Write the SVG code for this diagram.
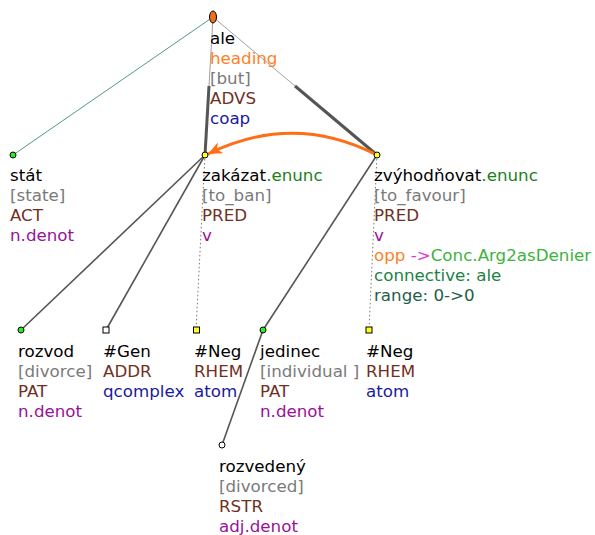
<svg xmlns="http://www.w3.org/2000/svg" width="595" height="535" viewBox="0 0 595 535">
<style>
text{font-family:"DejaVu Sans","Liberation Sans",sans-serif;font-size:16.7px;fill:#000}
.gl{fill:#7a7a7a}.fn{fill:#722f1f}.bl{fill:#1a1a9a}.pu{fill:#991199}.en{fill:#1a7f1a}
.or{fill:#ff7f27}.mg{fill:#dd33dd}.lg{fill:#3cb33c}.cn{fill:#1c8245}.rg{fill:#235e48}
.e{stroke:#555;stroke-width:1.6;fill:none}
.thin{stroke:#a0a0a0;stroke-width:1;fill:none}
.thick{stroke:#555;stroke-width:3;fill:none}
.dot{stroke:#777;stroke-width:1;stroke-dasharray:1.5,2.5;fill:none}
.nd{stroke:#000;stroke-width:1}
</style>
<defs>
<marker id="ah" markerUnits="userSpaceOnUse" markerWidth="16" markerHeight="12" refX="14" refY="6" orient="auto">
<path d="M0,0 L14,6 L0,12 L4,6 z" fill="#ff6e14"/>
</marker>
</defs>
<g id="connectors">
<line x1="213" y1="17" x2="13" y2="155" stroke="#4f9a86" stroke-width="1"/>
<line class="thin" x1="213" y1="17" x2="209" y2="86"/>
<line class="thick" x1="209" y1="86" x2="205" y2="155"/>
<line class="thin" x1="213" y1="17" x2="295" y2="86"/>
<line class="thick" x1="295" y1="86" x2="377" y2="155"/>
<line class="e" x1="205" y1="155" x2="21" y2="330"/>
<line class="e" x1="205" y1="155" x2="106" y2="330"/>
<line class="dot" x1="205" y1="155" x2="196" y2="330"/>
<line class="e" x1="377" y1="155" x2="263" y2="330"/>
<line class="dot" x1="377" y1="155" x2="369" y2="330"/>
<line class="e" x1="263" y1="330" x2="222" y2="445"/>
<path d="M377,155 Q293,112 208,154" fill="none" stroke="#ff6e14" stroke-width="3" marker-end="url(#ah)"/>
</g>
<g id="n-ale">
<ellipse class="nd" cx="213" cy="17" rx="3.5" ry="6" fill="#f07020"/>
<text x="210" y="43.5">ale</text>
<text x="210" y="63.5" class="or">heading</text>
<text x="210" y="83.5" class="gl">[but]</text>
<text x="210" y="103.5" class="fn">ADVS</text>
<text x="210" y="123.5" class="bl">coap</text>
</g>
<g id="n-stat">
<circle class="nd" cx="13" cy="155" r="3" fill="#22ee22"/>
<text x="10" y="181">stát</text>
<text x="10" y="201" class="gl">[state]</text>
<text x="10" y="221" class="fn">ACT</text>
<text x="10" y="241" class="pu">n.denot</text>
</g>
<g id="n-zakazat">
<circle class="nd" cx="205" cy="155" r="3" fill="#ffff22"/>
<text x="202" y="181">zakázat<tspan class="en">.enunc</tspan></text>
<text x="202" y="201" class="gl">[to_ban]</text>
<text x="202" y="221" class="fn">PRED</text>
<text x="202" y="241" class="pu">v</text>
</g>
<g id="n-zvyhodnovat">
<circle class="nd" cx="377" cy="155" r="3" fill="#ffff22"/>
<text x="374" y="181">zvýhodňovat<tspan class="en">.enunc</tspan></text>
<text x="374" y="201" class="gl">[to_favour]</text>
<text x="374" y="221" class="fn">PRED</text>
<text x="374" y="241" class="pu">v</text>
<text x="374" y="261"><tspan class="or">opp</tspan><tspan class="mg"> -&gt;</tspan><tspan class="lg">Conc.Arg2asDenier</tspan></text>
<text x="374" y="281" class="cn">connective: ale</text>
<text x="374" y="301" class="rg">range: 0-&gt;0</text>
</g>
<g id="n-rozvod">
<circle class="nd" cx="21" cy="330" r="3" fill="#22ee22"/>
<text x="18" y="357">rozvod</text>
<text x="18" y="377" class="gl">[divorce]</text>
<text x="18" y="397" class="fn">PAT</text>
<text x="18" y="417" class="pu">n.denot</text>
</g>
<g id="n-gen">
<rect class="nd" x="103" y="327" width="6" height="6" fill="#fff"/>
<text x="103" y="357">#Gen</text>
<text x="103" y="377" class="fn">ADDR</text>
<text x="103" y="397" class="bl">qcomplex</text>
</g>
<g id="n-neg1">
<rect class="nd" x="193.5" y="327" width="6" height="6" fill="#ffff22"/>
<text x="194" y="357">#Neg</text>
<text x="194" y="377" class="fn">RHEM</text>
<text x="194" y="397" class="bl">atom</text>
</g>
<g id="n-jedinec">
<circle class="nd" cx="263" cy="330" r="3" fill="#22ee22"/>
<text x="260" y="357">jedinec</text>
<text x="260" y="377" class="gl">[individual ]</text>
<text x="260" y="397" class="fn">PAT</text>
<text x="260" y="417" class="pu">n.denot</text>
</g>
<g id="n-neg2">
<rect class="nd" x="366" y="327" width="6" height="6" fill="#ffff22"/>
<text x="366" y="357">#Neg</text>
<text x="366" y="377" class="fn">RHEM</text>
<text x="366" y="397" class="bl">atom</text>
</g>
<g id="n-rozvedeny">
<circle class="nd" cx="222" cy="445" r="3" fill="#fff"/>
<text x="219" y="472">rozvedený</text>
<text x="219" y="492" class="gl">[divorced]</text>
<text x="219" y="512" class="fn">RSTR</text>
<text x="219" y="532" class="pu">adj.denot</text>
</g>
</svg>
